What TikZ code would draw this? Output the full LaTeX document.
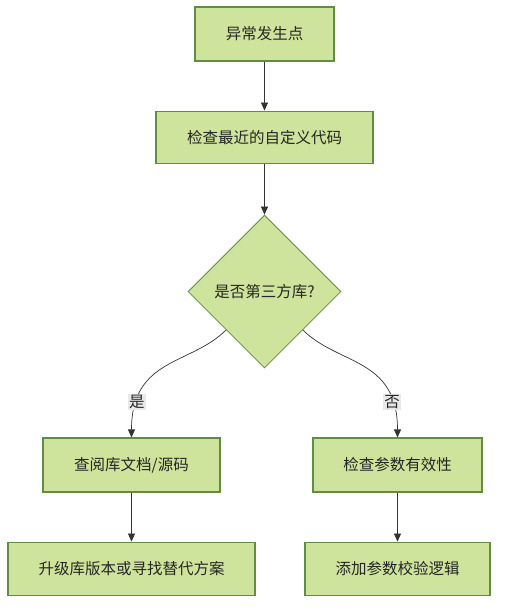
\documentclass[tikz,border=0pt]{standalone}
\usepackage{fontspec}
\setmainfont{Noto Sans CJK SC}
\usetikzlibrary{arrows.meta, positioning, quotes}
\usetikzlibrary{shapes.geometric}

\definecolor{boxfill}{RGB}{206,227,155}
\definecolor{boxline}{RGB}{98,140,68}
\definecolor{lblfill}{RGB}{232,232,232}

\begin{document}
\begin{tikzpicture}[x=1pt, y=1pt,
						block/.style={draw=boxline, fill=boxfill, line width=1.1pt, rectangle, font=\fontsize{15.5}{18}\selectfont, text=black!85},
						decision/.style={draw=boxline, fill=boxfill, line width=0.8pt, diamond, aspect=1, inner sep=0pt, minimum size=153pt, font=\fontsize{15.5}{18}\selectfont, text=black!85},
						lbl/.style={fill=lblfill, inner sep=1.5pt, font=\fontsize{15.5}{18}\selectfont, text=black!85},
						every edge/.append style={draw=black!80, line width=0.7pt, -{Triangle[width=7pt,length=8pt]}, shorten > = 0pt},]
		\useasboundingbox (0,0) rectangle (506,-612);
		\node (start) [block, minimum width=139pt, minimum height=54pt] at (264.5,-34) {异常发生点};
		\node (check) [block, minimum width=217pt, minimum height=52pt, below=49pt of start] {检查最近的自定义代码};
		\node (third) [decision, below=51pt of check] {是否第三方库?};
		\node (docs) [block, minimum width=177pt, minimum height=54pt] at (131.5,-465) {查阅库文档/源码};
		\node (upgrade) [block, minimum width=247pt, minimum height=53pt, below=49pt of docs] {升级库版本或寻找替代方案};
		\node (valid) [block, minimum width=169pt, minimum height=54pt] at (397.5,-465) {检查参数有效性};
		\node (addchk) [block, minimum width=185pt, minimum height=53pt, below=49pt of valid] {添加参数校验逻辑};

		\path 	(start) edge (check)
				(check) edge (third)
				(third.south west) edge[out=-135, in=90, out distance=50pt, in distance=80pt] node[lbl, pos=0.82] {是} (docs)
				(third.south east) edge[out=-45, in=90, out distance=50pt, in distance=80pt] node[lbl, pos=0.82] {否} (valid)
				(docs) edge (upgrade)
				(valid) edge (addchk);
	\end{tikzpicture}
\end{document}
